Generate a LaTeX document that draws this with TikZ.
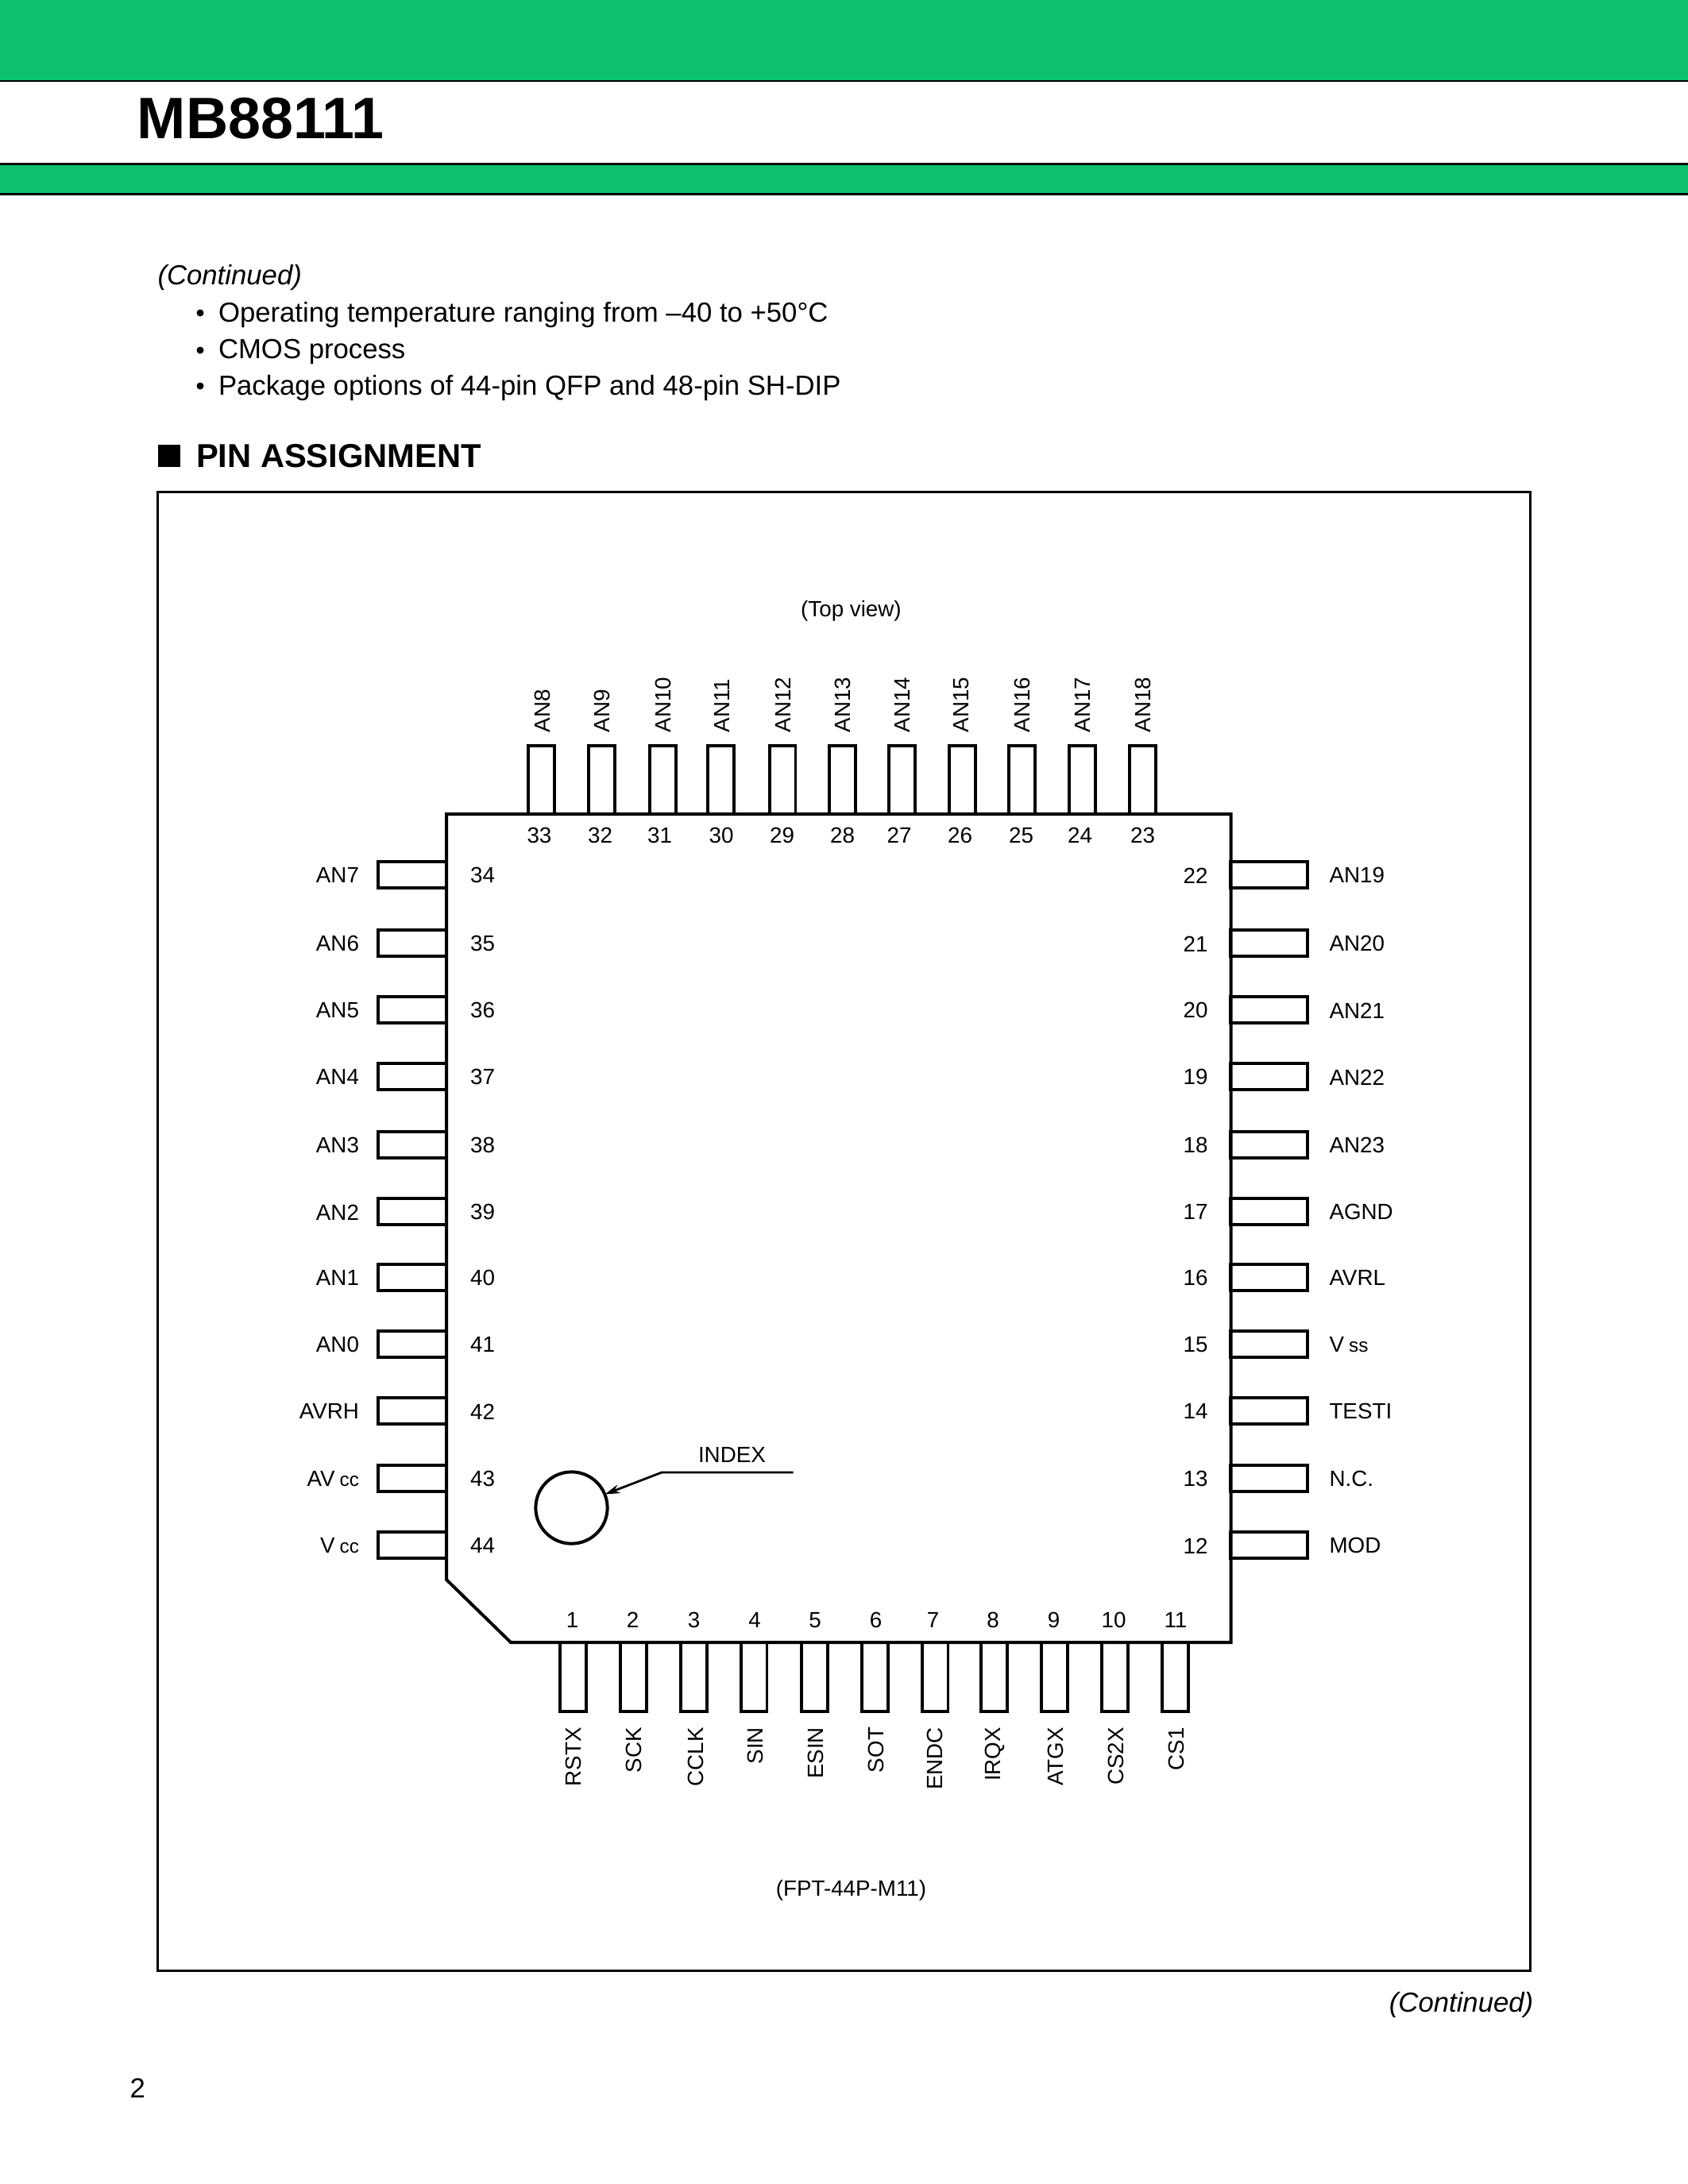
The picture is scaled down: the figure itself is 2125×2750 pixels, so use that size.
\documentclass[tikz,border=0pt]{standalone}
\usepackage{fontspec}
\setmainfont{Liberation Sans}
\usetikzlibrary{arrows.meta}
\definecolor{band}{RGB}{12,192,112}
\tikzset{
  lab/.style={inner sep=0pt,outer sep=0pt,font=\fontsize{8}{9.6}\selectfont},
  body/.style={inner sep=0pt,outer sep=0pt,anchor=base west,font=\fontsize{10}{12}\selectfont},
  pinbox/.style={draw,line width=1.15pt,inner sep=0pt,outer sep=0pt},
  pinv/.style={pinbox,minimum width=9.5pt,minimum height=24.8pt},
  pinl/.style={pinbox,minimum width=24.8pt,minimum height=9.5pt},
  pinr/.style={pinbox,minimum width=27.9pt,minimum height=9.5pt},
}
\newcommand{\sm}[1]{\hspace{0.22em}{\fontsize{7}{7}\selectfont #1}}
\begin{document}
\begin{tikzpicture}[x=0.288pt,y=-0.288pt]
\useasboundingbox (0,0) rectangle (2125,2750);
% header
\fill[band] (0,0) rectangle (2125,102);
\draw[line width=0.4pt] (0,102) -- (2125,102);
\fill[band] (0,206) rectangle (2125,244);
\draw[line width=0.8pt] (0,206.5) -- (2125,206.5);
\draw[line width=0.8pt] (0,244.5) -- (2125,244.5);
\node[inner sep=0pt,anchor=base west,font=\fontsize{21.2}{24}\selectfont\bfseries] (title) at (172,174) {MB88111};
% text
\node[body,font=\fontsize{10}{12}\selectfont\itshape] (cont) at (198.5,358) {(Continued)};
\fill (252,394) circle (4.5);
\fill (252,441) circle (4.5);
\fill (252,486) circle (4.5);
\node[body] (t1) at (275,405.5) {Operating temperature ranging from –40 to +50°C};
\node[body] (t2) at (275,451.5) {CMOS process};
\node[body] (t3) at (275,497) {Package options of 44-pin QFP and 48-pin SH-DIP};
\fill (198.5,559.5) rectangle (227,588);
\node[body,font=\fontsize{12}{14}\selectfont\bfseries] (head) at (247,588) {PIN ASSIGNMENT};
% frame
\draw[line width=0.7pt] (198.5,619.5) rectangle (1926.5,2481.5);
\node[lab,anchor=base] (topview) at (1071.5,776) {(Top view)};
\node[lab,anchor=base] (fpt) at (1071.5,2387) {(FPT-44P-M11)};
% top pins: number / pin x / label x / number x / name
\foreach \n/\px/\lx/\nx/\t in {33/681.5/682.5/679/AN8,32/757.5/757.5/755.5/AN9,31/834.5/835/830.5/AN10,30/907.5/908.5/908/AN11,29/985/986/984.5/AN12,28/1060.5/1060.5/1060.5/AN13,27/1135.5/1136/1132/AN14,26/1211.5/1210.5/1208.5/AN15,25/1286.5/1286.5/1285.5/AN16,24/1362.5/1362.5/1359.5/AN17,23/1438.5/1438.5/1438.5/AN18}{
  \node[pinv] (pin\n) at (\px,982) {};
  \node[lab,rotate=90,anchor=west] (name\n) at (\lx,922.5) {\t};
  \node[lab] (num\n) at (\nx,1052) {\n};
}
% left pins
\foreach \n/\y/\t in {34/1101/AN7,35/1187/AN6,36/1271/AN5,37/1355/AN4,38/1441/AN3,39/1525/AN2,40/1608/AN1,41/1692/AN0,42/1776/AVRH,43/1861/AV\sm{cc},44/1945/V\sm{cc}}{
  \node[pinl] (pin\n) at (519,\y) {};
  \node[lab,anchor=east] (name\n) at ([yshift=-0.4pt]452,\y) {\t};
  \node[lab] (num\n) at ([yshift=-0.4pt]607.5,\y) {\n};
}
% right pins
\foreach \n/\y/\t in {22/1101/AN19,21/1187/AN20,20/1271/AN21,19/1355/AN22,18/1441/AN23,17/1525/AGND,16/1608/AVRL,15/1692/V\sm{ss},14/1776/TESTI,13/1861/N.C.,12/1945/MOD}{
  \node[pinr] (pin\n) at (1597.5,\y) {};
  \node[lab,anchor=west] (name\n) at ([yshift=-0.4pt]1673.5,\y) {\t};
  \node[lab] (num\n) at ([yshift=-0.4pt]1505,\y) {\n};
}
% bottom pins
\foreach \n/\px/\lx/\nx/\t in {1/721.5/722/720.5/RSTX,2/797.5/797.5/796.5/SCK,3/873.5/875.5/873.5/CCLK,4/949/950.5/950/SIN,5/1025.5/1026.5/1026/ESIN,6/1101.5/1102.5/1102.5/SOT,7/1177/1177/1174.5/ENDC,8/1251.5/1252.5/1250/IRQX,9/1327.5/1328.5/1326.5/ATGX,10/1403.5/1404.5/1402/CS2X,11/1479.5/1480.5/1480/CS1}{
  \node[pinv] (pin\n) at (\px,2111.5) {};
  \node[lab,rotate=90,anchor=east] (name\n) at (\lx,2175) {\t};
  \node[lab] (num\n) at (\nx,2040) {\n};
}
% chip
\draw[line width=1.15pt,line join=miter] (562,1025) -- (1549.5,1025) -- (1549.5,2068) -- (643,2068) -- (562,1989) -- cycle;
% index
\node[draw,circle,line width=1.15pt,inner sep=0pt,outer sep=0pt,minimum size=26pt] (mark) at (719.5,1898.5) {};
\coordinate (bend) at (833,1854);
\coordinate (lead) at (998.5,1854);
\node[lab,anchor=base west] (index) at (879,1841.5) {INDEX};
\draw[line width=0.8pt,-{Stealth[length=5.5pt,width=3.2pt]}] (lead) -- (bend) -- (mark.22);
% footer
\node[inner sep=0pt,anchor=base east,font=\fontsize{10}{12}\selectfont\itshape] (cont2) at (1931,2533) {(Continued)};
\node[inner sep=0pt,anchor=base west,font=\fontsize{10}{12}\selectfont] (page) at (163,2641) {2};
\end{tikzpicture}
\end{document}
